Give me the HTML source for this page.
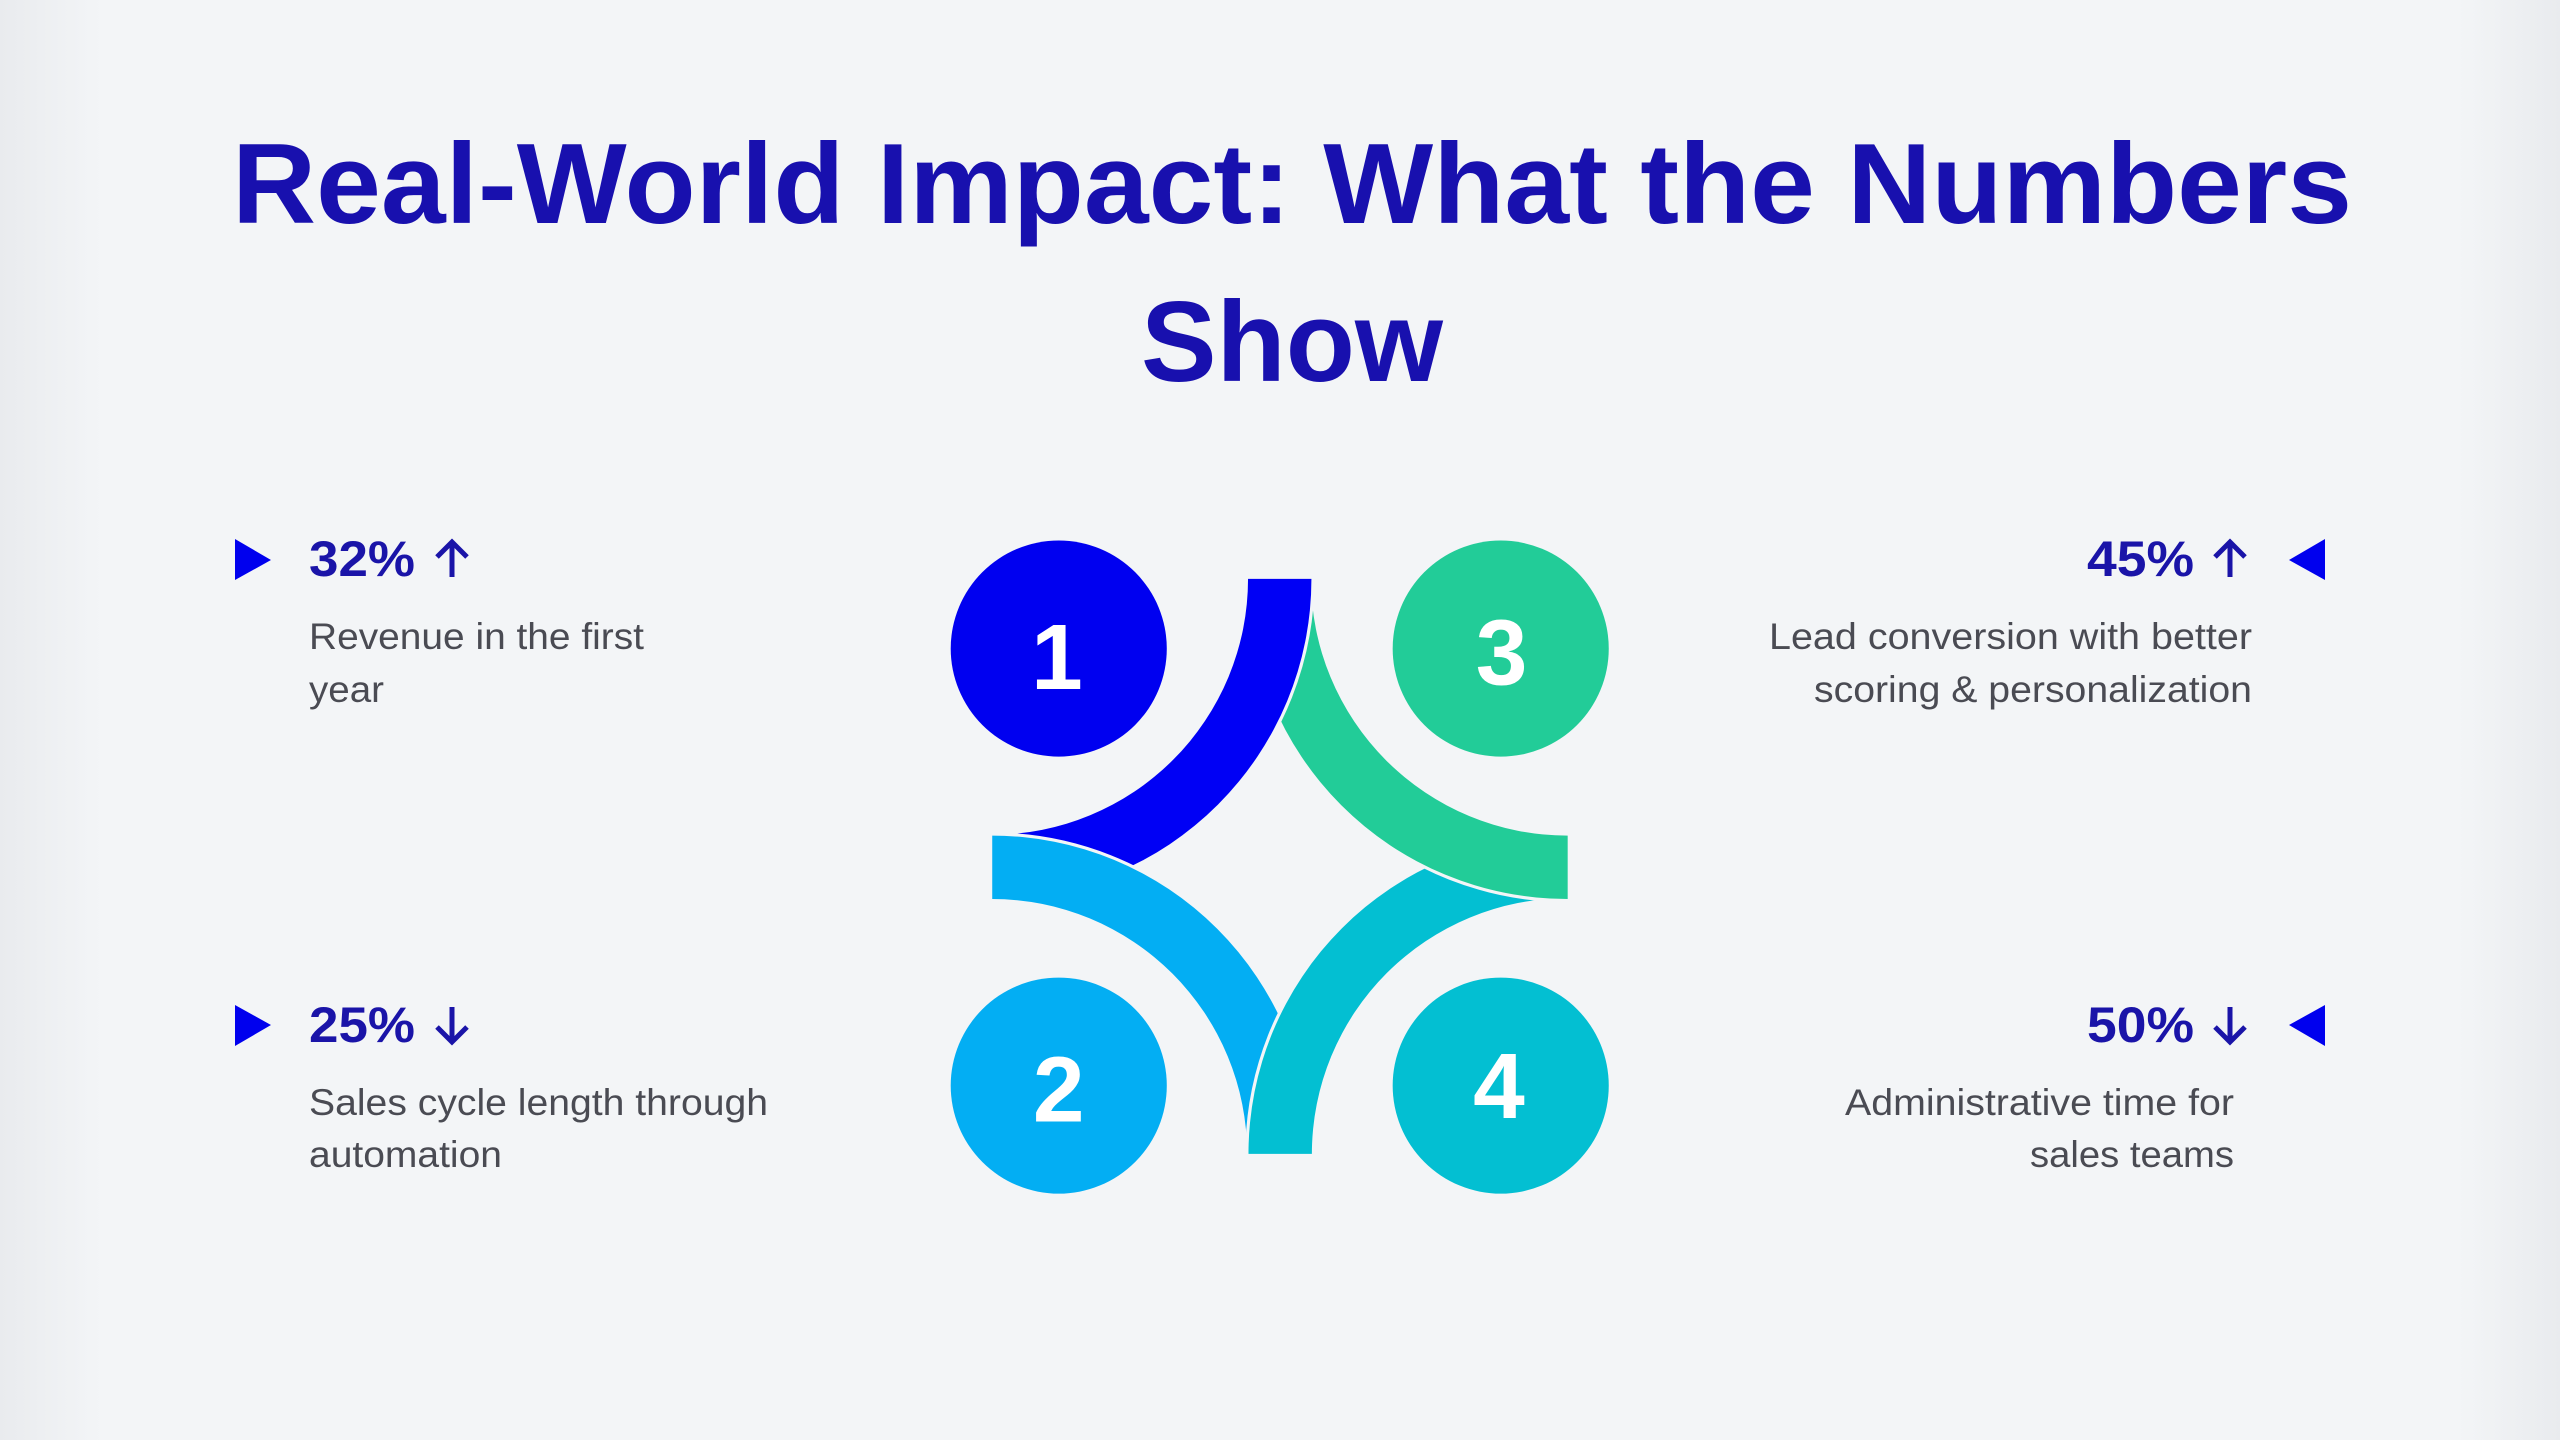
<!DOCTYPE html>
<html><head><meta charset="utf-8"><style>
html,body{margin:0;padding:0;width:2560px;height:1440px;overflow:hidden;background:#f3f5f7;}
svg{display:block}
</style></head><body>
<svg width="2560" height="1440" viewBox="0 0 2560 1440" xmlns="http://www.w3.org/2000/svg">
<defs>
<linearGradient id="bg" x1="0" y1="0" x2="1" y2="0">
<stop offset="0" stop-color="#e9ebee"/><stop offset="0.04" stop-color="#f3f5f7"/>
<stop offset="0.96" stop-color="#f3f5f7"/><stop offset="1" stop-color="#e9ebee"/>
</linearGradient>
</defs>
<rect width="2560" height="1440" fill="url(#bg)"/>
<g font-family="'Liberation Sans', Arial, sans-serif" fill="#1810ae" font-weight="bold">
<text x="1292" y="223" font-size="114" text-anchor="middle" textLength="2120" lengthAdjust="spacingAndGlyphs">Real-World Impact: What the Numbers</text>
<text x="1292" y="381" font-size="114" text-anchor="middle" textLength="302" lengthAdjust="spacingAndGlyphs">Show</text>
</g>
<!-- left items -->
<g fill="#0000ee">
<polygon points="235,539 271,560 235,580"/>
<polygon points="235,1005 271,1025 235,1046"/>
<polygon points="2325,539 2289,560 2325,580"/>
<polygon points="2325,1005 2289,1025 2325,1046"/>
</g>
<g font-family="'Liberation Sans', Arial, sans-serif" fill="#1a14a8" font-weight="bold" font-size="50">
<text x="309" y="576" textLength="106" lengthAdjust="spacingAndGlyphs">32%</text>
<text x="309" y="1042" textLength="106" lengthAdjust="spacingAndGlyphs">25%</text>
<text x="2194" y="576" text-anchor="end" textLength="107" lengthAdjust="spacingAndGlyphs">45%</text>
<text x="2194" y="1042" text-anchor="end" textLength="107" lengthAdjust="spacingAndGlyphs">50%</text>
</g>
<g stroke="#1a14a8" stroke-width="5" fill="none" stroke-linejoin="miter">
<path d="M452,577 V543 M437,557 L452,542 L467,557"/>
<path d="M452,1007 V1041 M437,1027 L452,1042 L467,1027"/>
<path d="M2230,577 V543 M2215,557 L2230,542 L2245,557"/>
<path d="M2230,1007 V1041 M2215,1027 L2230,1042 L2245,1027"/>
</g>
<g font-family="'Liberation Sans', Arial, sans-serif" fill="#4a4b53" font-size="37">
<text x="309" y="649" textLength="335" lengthAdjust="spacingAndGlyphs">Revenue in the first</text>
<text x="309" y="702" textLength="75" lengthAdjust="spacingAndGlyphs">year</text>
<text x="309" y="1115" textLength="459" lengthAdjust="spacingAndGlyphs">Sales cycle length through</text>
<text x="309" y="1167" textLength="193" lengthAdjust="spacingAndGlyphs">automation</text>
<text x="2252" y="649" text-anchor="end" textLength="483" lengthAdjust="spacingAndGlyphs">Lead conversion with better</text>
<text x="2252" y="702" text-anchor="end" textLength="438" lengthAdjust="spacingAndGlyphs">scoring &amp; personalization</text>
<text x="2234" y="1115" text-anchor="end" textLength="389" lengthAdjust="spacingAndGlyphs">Administrative time for</text>
<text x="2234" y="1167" text-anchor="end" textLength="204" lengthAdjust="spacingAndGlyphs">sales teams</text>
</g>
<svg x="940" y="520" width="700" height="700" viewBox="0 0 1568 1568">
<defs>
<path id="pB" d="M832,132 A715 715 0 0 1 117,847 L117,705 A573 573 0 0 0 690,132 Z"/>
<path id="pL" d="M117,707 A713 713 0 0 1 830,1420 L688,1420 A571 571 0 0 0 117,849 Z"/>
<path id="pT" d="M691,1420 A715 715 0 0 1 1406,705 L1406,847 A573 573 0 0 0 833,1420 Z"/>
<path id="pG" d="M1406,849 A717 717 0 0 1 689,132 L831,132 A575 575 0 0 0 1406,707 Z"/>
<mask id="mB" maskUnits="userSpaceOnUse" x="0" y="0" width="1568" height="1568"><rect width="1568" height="1568" fill="#fff"/><use href="#pL" fill="#000" stroke="#000" stroke-width="14"/></mask>
<mask id="mG" maskUnits="userSpaceOnUse" x="0" y="0" width="1568" height="1568"><rect width="1568" height="1568" fill="#fff"/><use href="#pB" fill="#000" stroke="#000" stroke-width="14"/></mask>
<mask id="mT" maskUnits="userSpaceOnUse" x="0" y="0" width="1568" height="1568"><rect width="1568" height="1568" fill="#fff"/><use href="#pG" fill="#000" stroke="#000" stroke-width="14"/></mask>
<mask id="mL" maskUnits="userSpaceOnUse" x="0" y="0" width="1568" height="1568"><rect width="1568" height="1568" fill="#fff"/><use href="#pT" fill="#000" stroke="#000" stroke-width="14"/></mask>
</defs>
<use href="#pB" fill="#0000f5" mask="url(#mB)"/>
<use href="#pG" fill="#22cc98" mask="url(#mG)"/>
<use href="#pT" fill="#03bfd2" mask="url(#mT)"/>
<use href="#pL" fill="#03aef3" mask="url(#mL)"/>
<circle cx="266" cy="288" r="242" fill="#0000f0"/>
<circle cx="1256" cy="288" r="242" fill="#22cc98"/>
<circle cx="266" cy="1267" r="242" fill="#03aef3"/>
<circle cx="1256" cy="1267" r="242" fill="#03bfd2"/>
<g font-family="'Liberation Sans', Arial, sans-serif" font-weight="bold" fill="#fff" font-size="208" text-anchor="middle">
<text x="262" y="378">1</text>
<text x="1258" y="368">3</text>
<text x="266" y="1347">2</text>
<text x="1252" y="1340">4</text>
</g>
</svg>
</svg>
</body></html>
